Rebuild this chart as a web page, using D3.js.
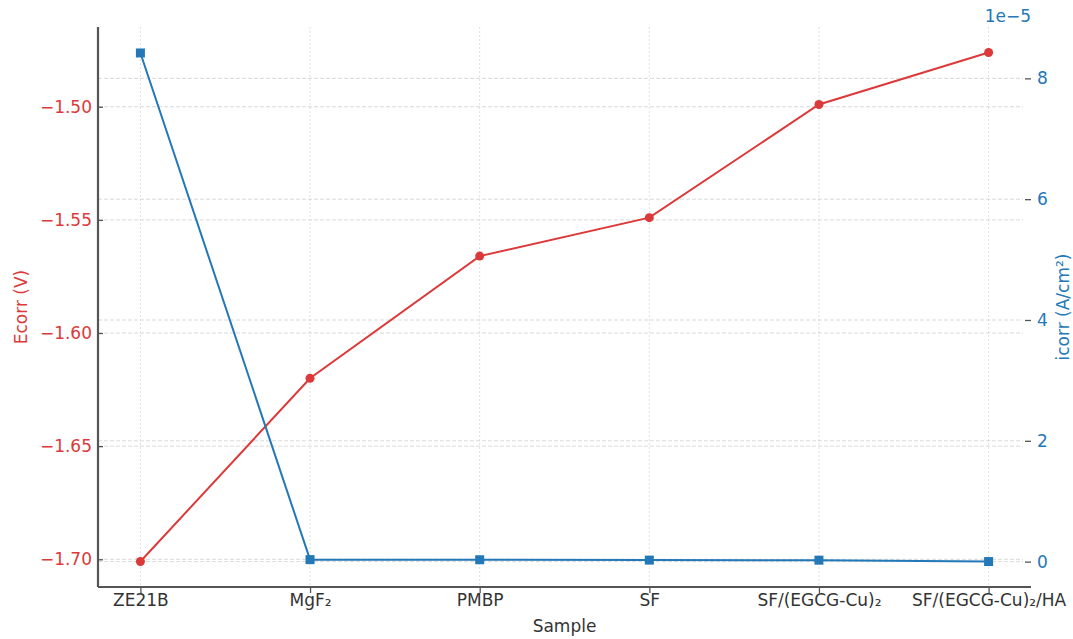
<!DOCTYPE html>
<html><head><meta charset="utf-8">
<script src="https://cdn.jsdelivr.net/npm/d3@7"></script>
<style>body{margin:0;background:#fff;} svg{display:block;font-family:"DejaVu Sans",sans-serif;}</style>
</head><body><svg id="c" width="1073" height="639"></svg>
<script>
const categories = ["ZE21B","MgF₂","PMBP","SF","SF/(EGCG-Cu)₂","SF/(EGCG-Cu)₂/HA"];
const ecorr = [-1.701,-1.620,-1.566,-1.549,-1.499,-1.476];
const icorr = [8.42e-5,3.3e-7,3.1e-7,2.5e-7,2.4e-7,1.0e-8];
const leftTicks = [-1.70,-1.65,-1.60,-1.55,-1.50];
const rightTicks = [0,2e-5,4e-5,6e-5,8e-5];

const RED="#dc3a3a", BLUE="#2378b8", AX="#555", FS="17px";
const svg=d3.select("#c");
const L=98,R=1031,T=27,B=587;
const x=d3.scaleLinear().domain([-0.25,5.25]).range([L,R]);
const yL=d3.scaleLinear().domain([-1.71225,-1.46475]).range([B,T]);
const yR=d3.scaleLinear().domain([-0.42e-5,8.85e-5]).range([B,T]);
const fmtMinus=s=>s.replace("-","−");

// grids
const g=svg.append("g");
g.selectAll(".gv").data(categories).enter().append("line")
 .attr("x1",(d,i)=>x(i)).attr("x2",(d,i)=>x(i)).attr("y1",T).attr("y2",B)
 .attr("stroke","#d8d8d8").attr("stroke-width",0.8).attr("stroke-dasharray","2,2");
g.selectAll(".gl").data(leftTicks).enter().append("line")
 .attr("x1",L).attr("x2",R-8).attr("y1",d=>yL(d)).attr("y2",d=>yL(d))
 .attr("stroke","#cfcfcf").attr("stroke-width",0.8).attr("stroke-dasharray","4,2");
g.selectAll(".gr").data(rightTicks).enter().append("line")
 .attr("x1",L).attr("x2",R-8).attr("y1",d=>yR(d)).attr("y2",d=>yR(d))
 .attr("stroke","#cfcfcf").attr("stroke-width",0.8).attr("stroke-dasharray","4,2");

// left axis (inward ticks)
const la=svg.append("g").attr("transform",`translate(${L},0)`)
 .call(d3.axisLeft(yL).tickValues(leftTicks).tickSize(-5).tickPadding(12).tickFormat(d=>fmtMinus(d3.format(".2f")(d))));
la.select(".domain").attr("stroke",AX).attr("stroke-width",2.2).attr("d",`M0,${T}V${B}`);
la.selectAll(".tick line").attr("stroke",AX).attr("stroke-width",1.3);
la.selectAll(".tick text").attr("x",-6).attr("fill",RED).style("font-size",FS).style("font-family","DejaVu Sans");

// right axis (no spine, inward ticks)
const ra=svg.append("g").attr("transform",`translate(${R},0)`)
 .call(d3.axisRight(yR).tickValues(rightTicks).tickSize(-6).tickPadding(6).tickFormat(d=>d3.format("d")(Math.round(d/1e-5))));
ra.select(".domain").remove();
ra.selectAll(".tick line").attr("stroke",AX).attr("stroke-width",1.3);
ra.selectAll(".tick text").attr("x",6).attr("fill",BLUE).style("font-size",FS).style("font-family","DejaVu Sans");

// bottom axis
const ba=svg.append("g").attr("transform",`translate(0,${B})`)
 .call(d3.axisBottom(x).tickValues(d3.range(categories.length)).tickSize(6).tickPadding(1).tickFormat(i=>categories[i]));
ba.select(".domain").attr("stroke",AX).attr("stroke-width",2.2).attr("d",`M${L},0H${R}`);
ba.selectAll(".tick line").attr("stroke",AX).attr("stroke-width",1.3);
ba.selectAll(".tick text").attr("fill","#333").style("font-size",FS).style("font-family","DejaVu Sans");

// lines
svg.append("path").datum(ecorr).attr("fill","none").attr("stroke",RED).attr("stroke-width",2)
 .attr("d",d3.line().x((d,i)=>x(i)).y(d=>yL(d)));
svg.selectAll(".pe").data(ecorr).enter().append("circle")
 .attr("cx",(d,i)=>x(i)).attr("cy",d=>yL(d)).attr("r",4.5).attr("fill",RED);
svg.append("path").datum(icorr).attr("fill","none").attr("stroke",BLUE).attr("stroke-width",2)
 .attr("d",d3.line().x((d,i)=>x(i)).y(d=>yR(d)));
svg.selectAll(".pi").data(icorr).enter().append("rect")
 .attr("x",(d,i)=>x(i)-4.5).attr("y",d=>yR(d)-4.5).attr("width",9).attr("height",9).attr("fill",BLUE);

// labels
svg.append("text").attr("transform","translate(27,307) rotate(-90)").attr("text-anchor","middle")
 .attr("fill",RED).style("font-size",FS).text("Ecorr (V)");
svg.append("text").attr("transform","translate(1069,307) rotate(-90)").attr("text-anchor","middle")
 .attr("fill",BLUE).style("font-size",FS).text("icorr (A/cm²)");
svg.append("text").attr("x",(L+R)/2).attr("y",632).attr("text-anchor","middle")
 .attr("fill","#333").style("font-size",FS).text("Sample");
svg.append("text").attr("x",R).attr("y",22).attr("text-anchor","end")
 .attr("fill",BLUE).style("font-size",FS).text("1e−5");
</script></body></html>
